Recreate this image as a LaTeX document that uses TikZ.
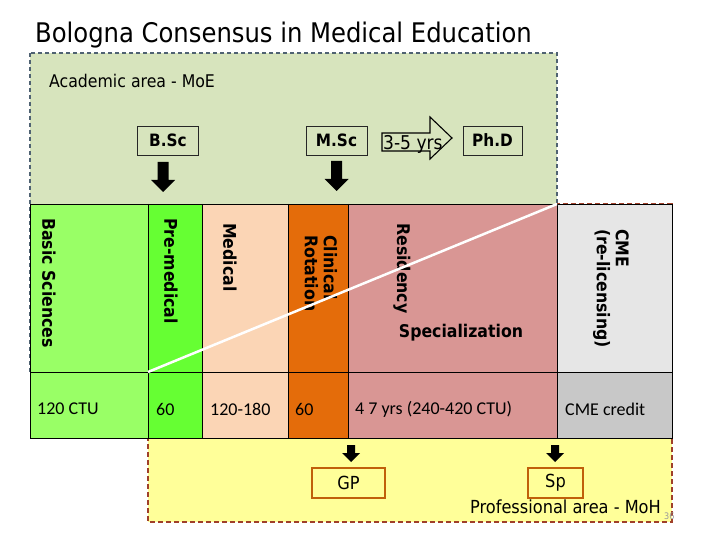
\documentclass[tikz,border=0pt]{standalone}
\usepackage{fontspec}
\setmainfont{DejaVu Sans Condensed}
\newfontfamily\calfont{Carlito}
\usetikzlibrary{calc}
\definecolor{areagreen}{HTML}{D7E4BD}
\definecolor{areayellow}{HTML}{FFFF99}
\definecolor{greenborder}{HTML}{4F6272}
\definecolor{redborder}{HTML}{A0402A}
\definecolor{proborder}{HTML}{C0600A}
\definecolor{cbasic}{HTML}{99FF66}
\definecolor{cpre}{HTML}{66FF33}
\definecolor{cmed}{HTML}{FBD5B5}
\definecolor{cclin}{HTML}{E46C0A}
\definecolor{cres}{HTML}{D99694}
\definecolor{ccmetop}{HTML}{E6E6E6}
\definecolor{ccmebot}{HTML}{C8C8C8}
\begin{document}
\begin{tikzpicture}[x=1pt,y=-1pt,
  cell/.style={draw=black, line width=0.8pt},
  vlbl/.style={rotate=-90, anchor=west, inner sep=0pt, align=left, font=\fontsize{17.5}{19}\bfseries\selectfont},
  num/.style={anchor=west, inner sep=0pt, font=\calfont\fontsize{18}{20}\selectfont},
  degbox/.style={draw=black!85, line width=0.8pt, inner sep=0pt, minimum width=61, minimum height=29, font=\fontsize{17}{19}\bfseries\selectfont},
  probox/.style={draw=proborder, fill=areayellow, line width=1.1pt, inner sep=0pt, minimum height=30, font=\fontsize{18}{20}\selectfont},
  darrowbig/.pic={\fill[black] (-5.5,0) -- (5.5,0) -- (5.5,18) -- (12,18) -- (0,30) -- (-12,18) -- (-5.5,18) -- cycle;},
  darrowsmall/.pic={\fill[black] (-4,0) -- (4,0) -- (4,8) -- (9,8) -- (0,17) -- (-9,8) -- (-4,8) -- cycle;}
]
\useasboundingbox (0,0) rectangle (720,540);
\fill[white] (0,0) rectangle (720,540);

% title
\node[anchor=base west, inner sep=0pt, font=\fontsize{27}{30}\selectfont] (title) at (35,43) {Bologna Consensus in Medical Education};

% professional area (yellow)
\draw[redborder, fill=areayellow, line width=2pt, dash pattern=on 5pt off 3pt] (148,204) rectangle (672,522);
% academic area (green)
\draw[greenborder, fill=areagreen, line width=1.5pt, dash pattern=on 4pt off 3pt] (30,53) rectangle (557,372);
\node[anchor=base west, inner sep=0pt, font=\fontsize{17.5}{20}\selectfont] (acad) at (49,88) {Academic area - MoE};

% degree boxes
\node[degbox] (bsc) at (168,140.5) {B.Sc};
\node[degbox] (msc) at (336.5,140.5) {M.Sc};
\node[degbox, minimum width=59] (phd) at (492.5,140.5) {Ph.D};
% block arrow 3-5 yrs
\draw[black, line width=1.1pt, line join=miter] (382,133) -- (430,133) -- (430,117) -- (452,138) -- (430,159) -- (430,151) -- (382,151) -- cycle;
\node[anchor=base west, inner sep=0pt, font=\fontsize{19}{21}\selectfont] (yrs) at (383,150) {3-5 yrs};

\pic at (163,162) {darrowbig};
\pic at (336.5,161) {darrowbig};

% table
\fill[cbasic] (30,204) rectangle (148,438);
\fill[cpre] (148,204) rectangle (202,438);
\fill[cmed] (202,204) rectangle (288,438);
\fill[cclin] (288,204) rectangle (348,438);
\fill[cres] (348,204) rectangle (557,438);
\fill[ccmetop] (557,204) rectangle (672,372);
\fill[ccmebot] (557,372) rectangle (672,438);
\draw[cell] (30,204) rectangle (672,438);
\draw[cell] (30,372) -- (672,372);
\foreach \xx in {148,202,288,348,557} \draw[cell] (\xx,204) -- (\xx,438);

% vertical labels
\node[vlbl] (basic) at (49,218) {Basic Sciences};
\node[vlbl] (pre) at (171,218) {Pre-medical};
\node[vlbl] (med) at (230,223) {Medical};
\node[vlbl] (clin) at (321,235) {Clinical\\Rotation};
\node[vlbl] (res) at (402,223) {Residency};
\node[vlbl] (cme) at (611,229) {CME\\(re-licensing)};
\node[inner sep=0pt, font=\fontsize{17.5}{19}\bfseries\selectfont] (spec) at (461,333) {Specialization};

% credits
\node[num] (c1) at (37,409) {120 CTU};
\node[num] (c2) at (156,409) {60};
\node[num] (c3) at (210,409) {120-180};
\node[num] (c4) at (295,409) {60};
\node[num] (c5) at (355,409) {4 7 yrs (240-420 CTU)};
\node[num] (c6) at (565,409) {CME credit};

% white diagonal
\draw[white, line width=2.5pt] (148,372) -- (557,204);

% professional area
\node[probox, minimum width=73] (gp) at (348.5,483) {GP};
\node[probox, minimum width=55] (sp) at (555.5,483) {Sp};
\pic at (351,445) {darrowsmall};
\pic at (555,445) {darrowsmall};
\node[anchor=base west, inner sep=0pt, font=\fontsize{18}{20}\selectfont] (prof) at (470,513) {Professional area - MoH};
\node[anchor=base west, inner sep=0pt, text=black!40, font=\fontsize{9}{10}\selectfont] (pg) at (664,519) {36};
\end{tikzpicture}
\end{document}
